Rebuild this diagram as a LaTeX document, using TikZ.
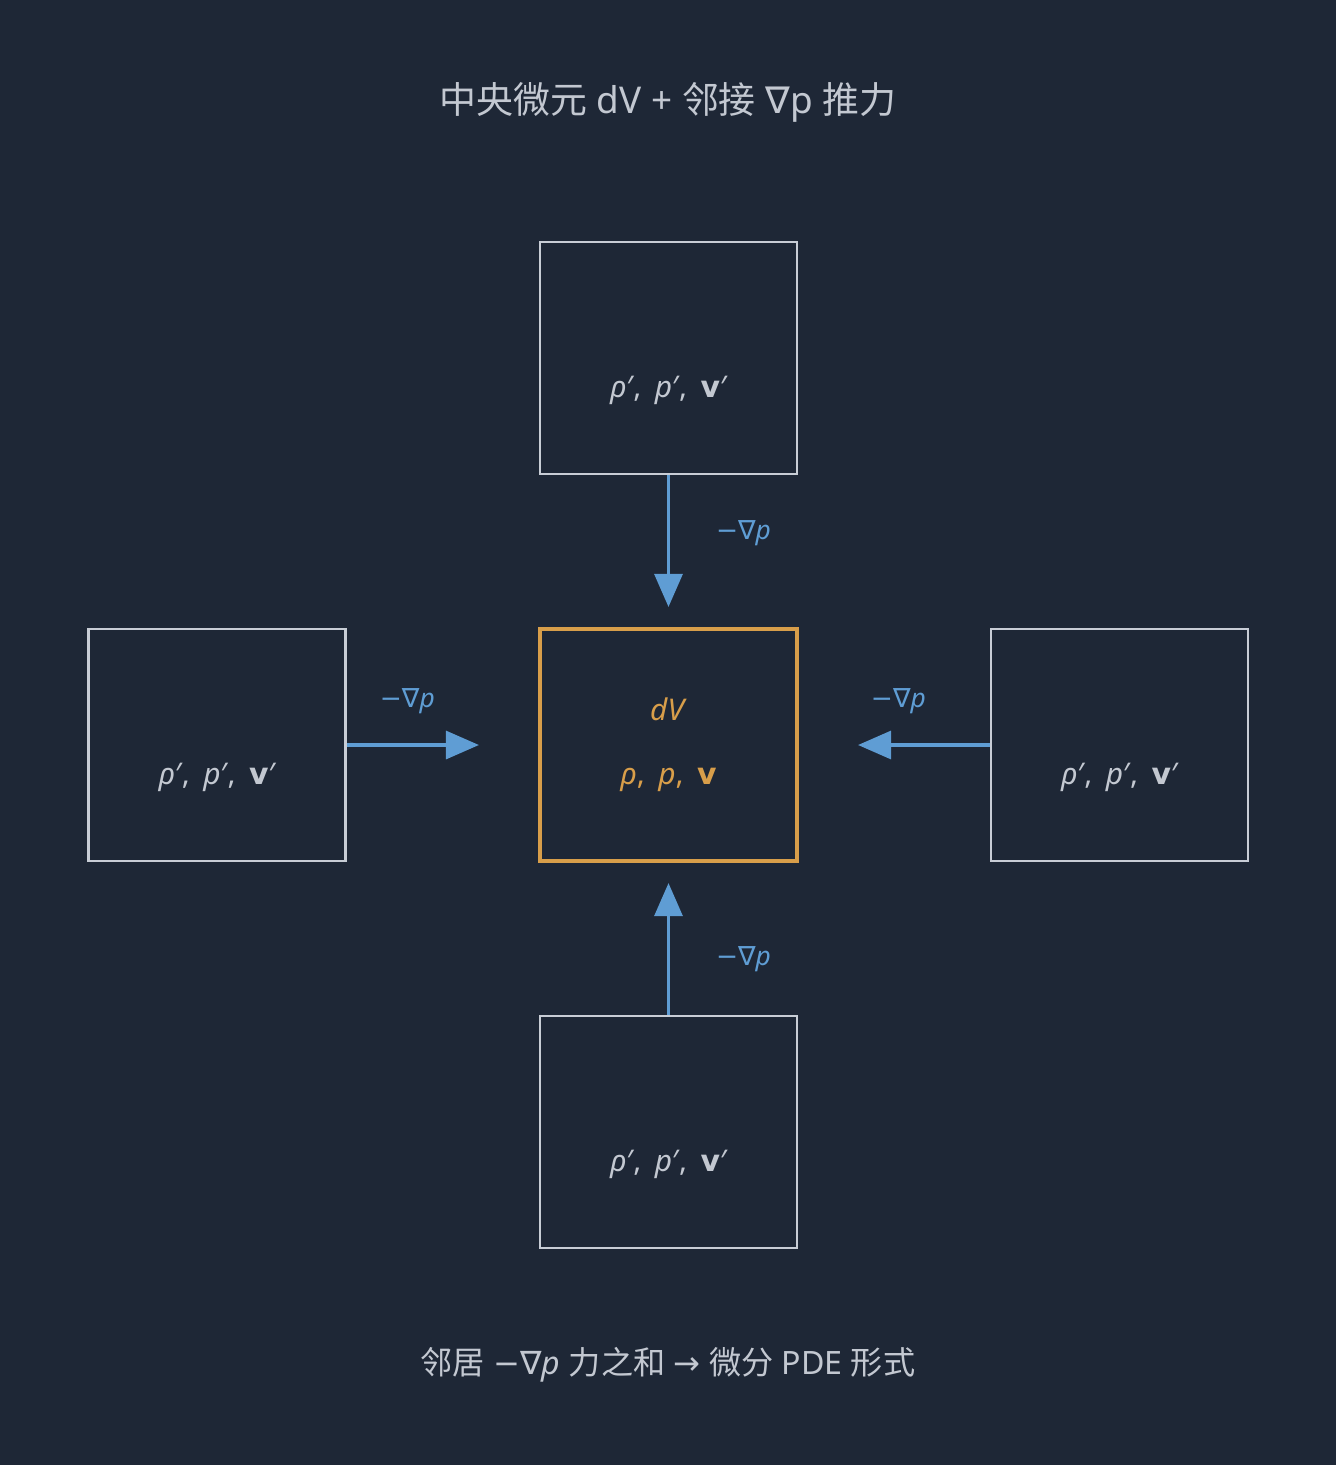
\documentclass[tikz,border=0pt]{standalone}
\usepackage{fontspec}
\setmainfont{Noto Sans}
\newfontfamily\cjk{Noto Sans CJK SC}
\newfontfamily\symf{DejaVu Sans}
\usetikzlibrary{arrows.meta}

\definecolor{bgnavy}{HTML}{1E2736}
\definecolor{boxgray}{HTML}{C8CDD6}
\definecolor{txtgray}{HTML}{C3C8D1}
\definecolor{dvorange}{HTML}{D89E4A}
\definecolor{forceblue}{HTML}{5F9DD4}

\newcommand{\ngrad}{{\symf −∇}\textit{p}}
\newcommand{\vsep}{,\hspace{0.45em}}
\newcommand{\bv}{{\symf\bfseries v}}
\newcommand{\nbvals}{\textit{ρ}′\vsep\textit{p}′\vsep\bv′}

\tikzset{
    cell/.style={draw=boxgray, line width=1.5pt, rectangle, minimum width=5.14cm,
        minimum height=4.64cm, align=center, text=txtgray, inner sep=0pt,
        font=\fontsize{17}{36.3}\selectfont},
    centercell/.style={cell, draw=dvorange, line width=2.4pt, text=dvorange},
    force/.style={draw=forceblue, line width=1.8pt, -{Triangle[width=0.56cm,length=0.66cm]}},
    flabel/.style={text=forceblue, font=\fontsize{15}{18}\selectfont},
    caption/.style={text=txtgray, font=\fontsize{21}{25}\selectfont}
}

\begin{document}
\begin{tikzpicture}[x=0.02cm, y=-0.02cm]
    \fill[bgnavy] (0,0) rectangle (1336,1465);
    \useasboundingbox (0,0) rectangle (1336,1465);

    \node[caption] (title) at (668,102) {{\cjk 中央微元} dV + {\cjk 邻接} {\symf ∇}p {\cjk 推力}};

    % central element and its four neighbours
    \node[centercell] (dv) at (668.5,745) {\textit{dV}\\ \textit{ρ}\vsep\textit{p}\vsep\bv};
    \node[cell] (top) at (668.5,358) {\phantom{\textit{dV}}\\ \nbvals};
    \node[cell] (left) at (217,745) {\phantom{\textit{dV}}\\ \nbvals};
    \node[cell] (right) at (1119.5,745) {\phantom{\textit{dV}}\\ \nbvals};
    \node[cell] (bottom) at (668.5,1132) {\phantom{\textit{dV}}\\ \nbvals};

    \draw[force, shorten >=0.4cm] (top) -- (dv) node[flabel, midway, xshift=1.5cm, yshift=0.35cm] {\ngrad};
    \draw[force, shorten >=1.18cm] (left) -- (dv) node[flabel, midway, xshift=-0.7cm, yshift=0.88cm] {\ngrad};
    \draw[force, shorten >=1.18cm] (right) -- (dv) node[flabel, midway, xshift=0.08cm, yshift=0.88cm] {\ngrad};
    \draw[force, shorten >=0.4cm] (bottom) -- (dv) node[flabel, midway, xshift=1.5cm, yshift=-0.41cm] {\ngrad};

    \node[caption, font=\fontsize{18.3}{22}\selectfont] (footer) at (668,1365)
        {{\cjk 邻居} \ngrad\ {\cjk 力之和} {\symf →} {\cjk 微分} PDE {\cjk 形式}};
\end{tikzpicture}
\end{document}
